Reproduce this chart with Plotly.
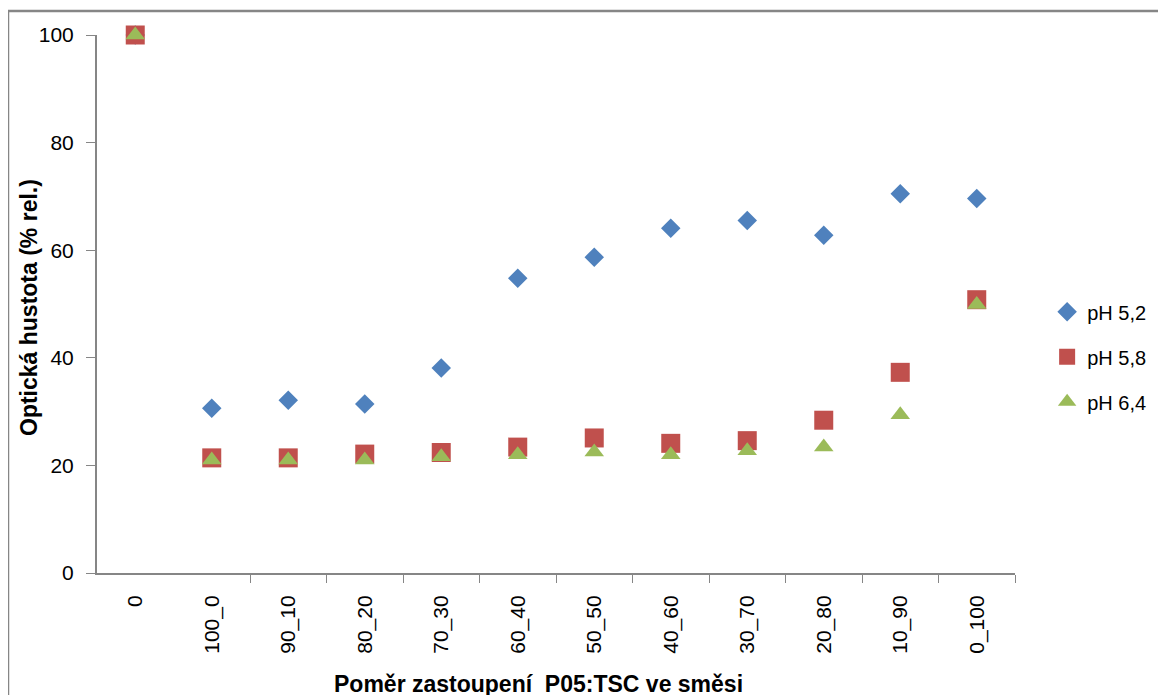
import plotly.graph_objects as go

categories = ["0", "100_0", "90_10", "80_20", "70_30", "60_40", "50_50",
              "40_60", "30_70", "20_80", "10_90", "0_100"]
ph52 = [100, 30.6, 32.1, 31.4, 38.1, 54.8, 58.7, 64.1, 65.5, 62.8, 70.5, 69.6]
ph58 = [100, 21.4, 21.4, 22.1, 22.4, 23.4, 25.1, 24.1, 24.6, 28.4, 37.3, 50.8]
ph64 = [100, 21.0, 21.0, 21.0, 21.6, 22.0, 22.5, 22.0, 22.7, 23.4, 29.4, 49.9]
series_names = ["pH 5,2", "pH 5,8", "pH 6,4"]
y_ticks = [0, 20, 40, 60, 80, 100]
x_title = "Poměr zastoupení  P05:TSC ve směsi"
y_title = "Optická hustota (% rel.)"

FONT = "Liberation Sans"
GRAY = "#868686"
xs = list(range(len(categories)))

# page body has an 8px margin; plot area target (screen): x 97..1015, y 35..573
PW = 1015 - 97
PH = 573 - 35

fig = go.Figure()
styles = [("diamond", "#4F81BD", 15), ("square", "#C0504D", 19), ("triangle-up", "#9BBB59", 17)]
for name, vals, (sym, col, sz) in zip(series_names, [ph52, ph58, ph64], styles):
    fig.add_trace(go.Scatter(
        x=xs, y=vals, mode="markers", name=name, legendgroup=name,
        marker=dict(symbol=sym, color=col, size=sz, line=dict(width=0)),
        cliponaxis=False,
    ))

fig.update_layout(
    width=1166, height=695,
    margin=dict(l=89, r=1166 - 1007, t=27, b=695 - 565, autoexpand=False),
    paper_bgcolor="white", plot_bgcolor="white",
    font=dict(family=FONT, size=20, color="black"),
    showlegend=True,
    legend=dict(x=1.035, xanchor="left", y=0.402, yanchor="middle",
                traceorder="grouped", tracegroupgap=16,
                font=dict(family=FONT, size=20, color="black"),
                bgcolor="rgba(0,0,0,0)"),
    xaxis=dict(
        automargin=False,
        range=[-0.5, len(categories) - 0.5],
        tickmode="array", tickvals=xs, ticktext=categories,
        tickangle=-90, ticks="", showgrid=False, zeroline=False,
        showline=True, linecolor=GRAY, linewidth=2,
        tickfont=dict(family=FONT, size=21, color="black"),
        ticklabelstandoff=12,
        minor=dict(tickmode="array", tickvals=[i + 0.5 for i in xs[1:]],
                   ticks="outside", ticklen=8, tickcolor=GRAY, tickwidth=1, showgrid=False),
    ),
    yaxis=dict(
        automargin=False,
        range=[0, 100], tickmode="array", tickvals=y_ticks,
        ticks="outside", ticklen=9, tickcolor=GRAY, tickwidth=1,
        showgrid=False, zeroline=False,
        showline=True, linecolor=GRAY, linewidth=2,
        tickfont=dict(family=FONT, size=21, color="black"),
        ticklabelstandoff=8,
    ),
    annotations=[
        dict(text="<b>" + x_title + "</b>", xref="paper", yref="paper",
             x=(538 - 97) / PW, y=(573 - 684) / PH, xanchor="center", yanchor="middle",
             showarrow=False, font=dict(family=FONT, size=23, color="black")),
        dict(text="<b>" + y_title + "</b>", xref="paper", yref="paper",
             x=(29 - 97) / PW, y=(573 - 308) / PH, xanchor="center", yanchor="middle",
             textangle=-90, showarrow=False, font=dict(family=FONT, size=23, color="black")),
    ],
    shapes=[dict(type="rect", xref="paper", yref="paper",
                 x0=(8 - 97) / PW, x1=1.3, y0=-0.4, y1=1 + (35 - 11) / PH,
                 line=dict(color=GRAY, width=2.5), layer="below")],
)

fig.write_html("out.html")
